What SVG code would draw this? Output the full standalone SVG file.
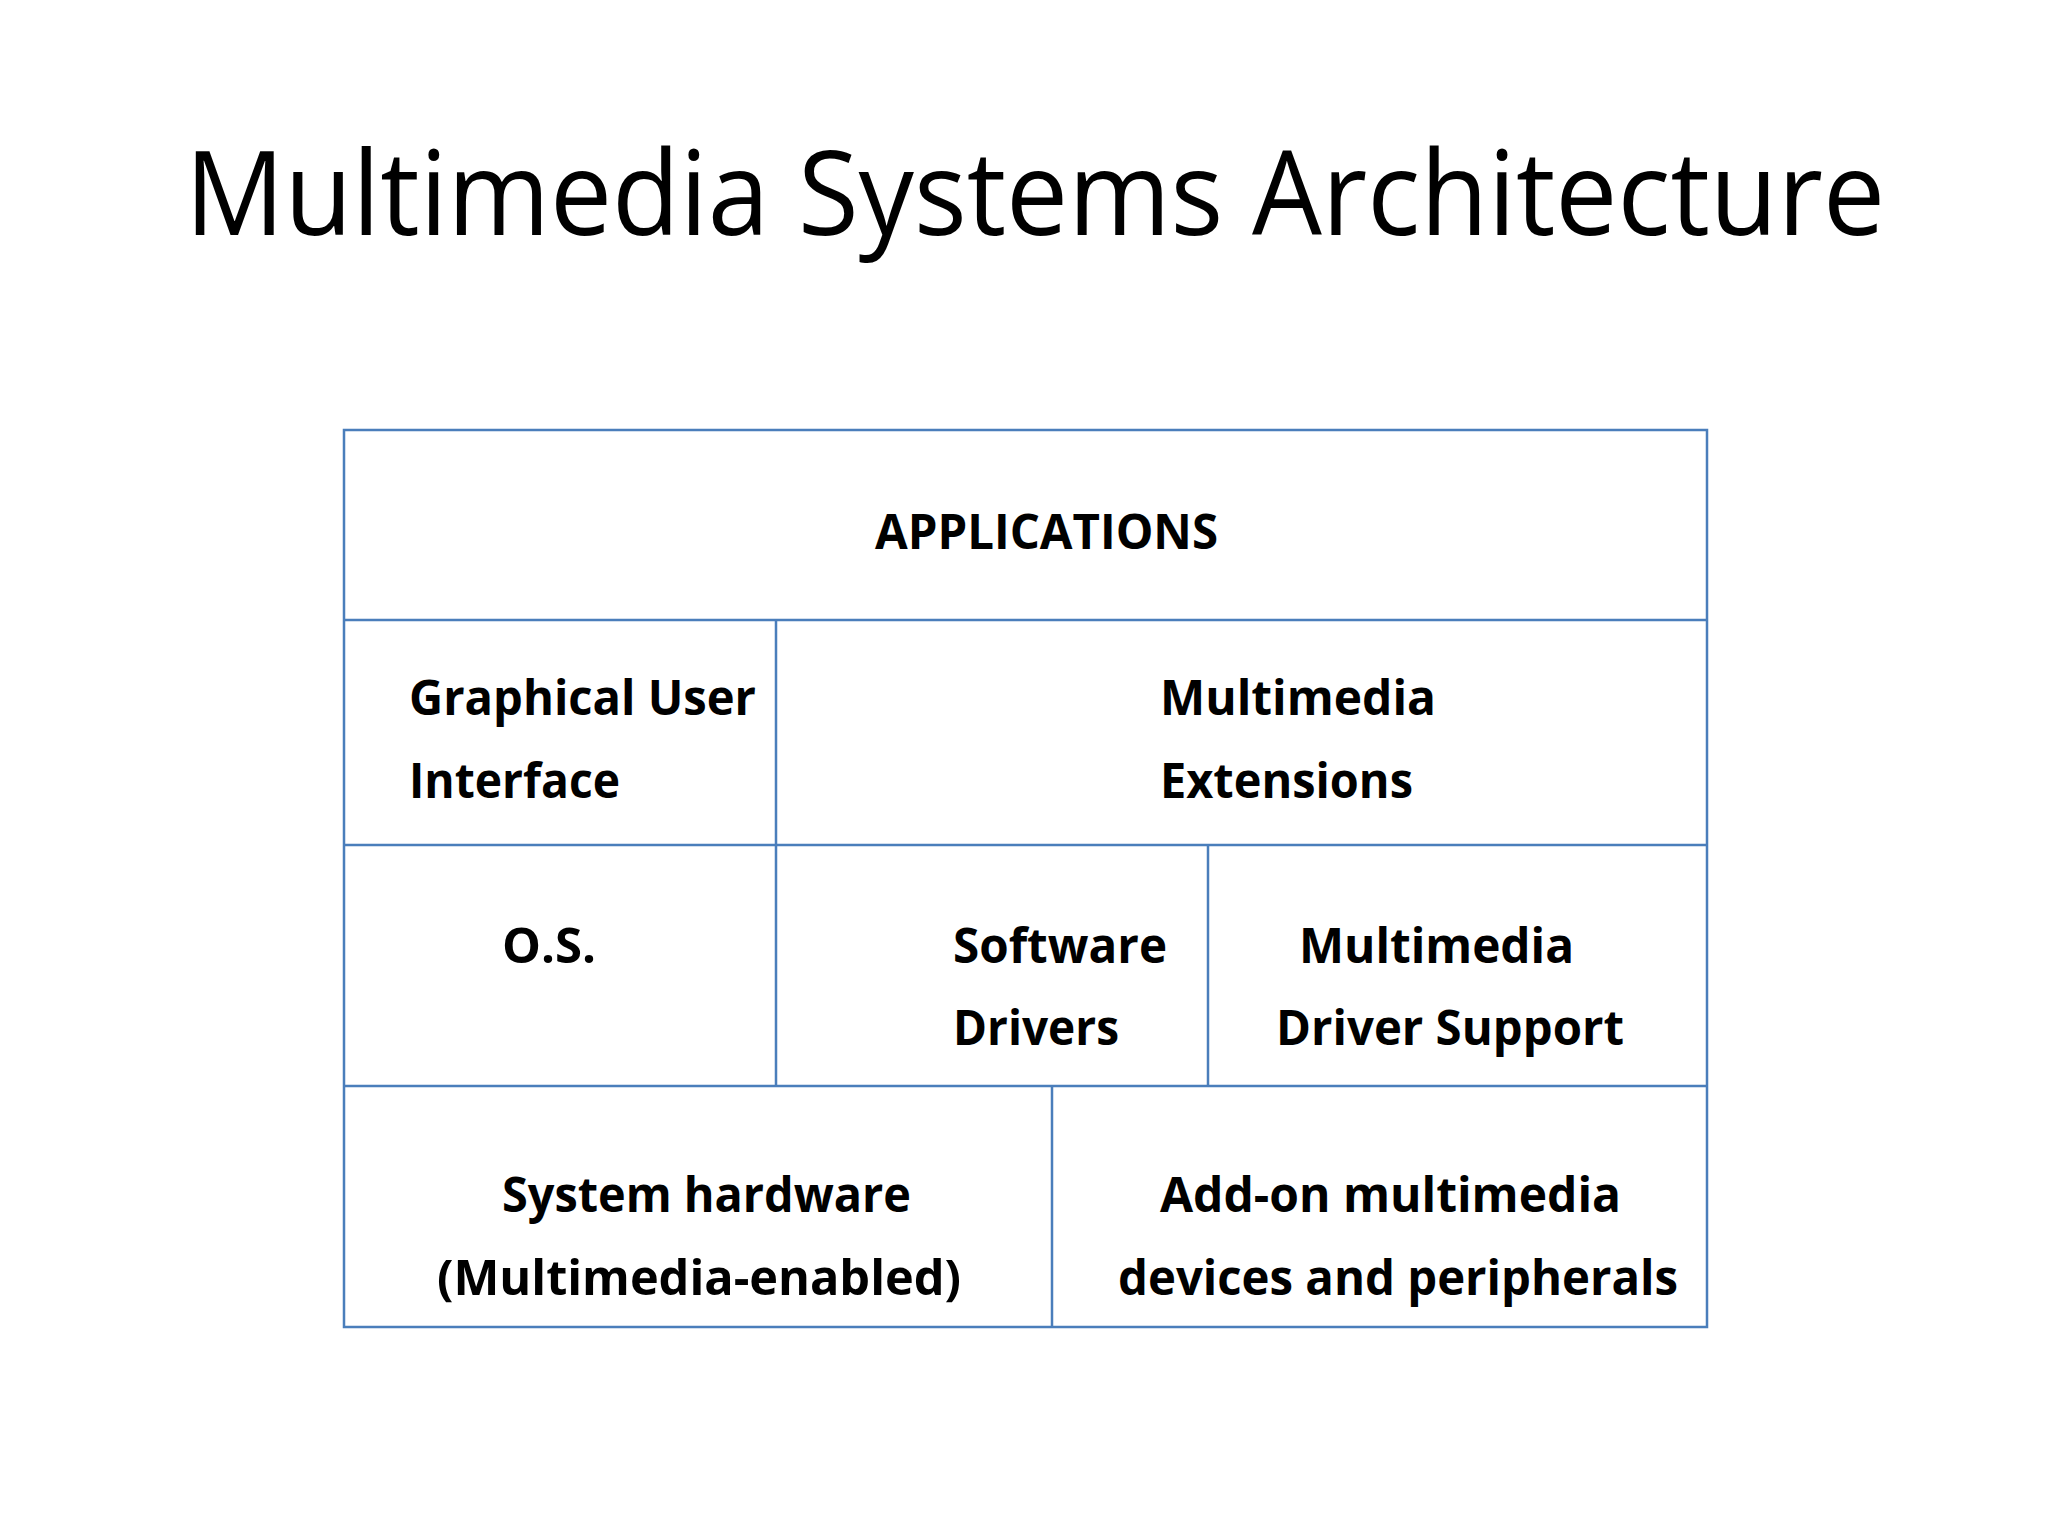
<svg xmlns="http://www.w3.org/2000/svg" width="2048" height="1536" viewBox="0 0 2048 1536">
<style>
.b{fill:none;stroke:#4a7ebb;stroke-width:2.5}
.t{font-family:"Open Sans","Liberation Sans",sans-serif;font-weight:bold;font-size:48px;fill:#000}
</style>
<rect width="2048" height="1536" fill="#fff"/>
<text x="185" y="235" font-family="'Open Sans','Liberation Sans',sans-serif" font-size="118" textLength="1700" lengthAdjust="spacingAndGlyphs">Multimedia Systems Architecture</text>
<g id="connectors" class="b">
<rect x="344" y="430" width="1363" height="897"/>
<line x1="344" y1="620" x2="1707" y2="620"/>
<line x1="344" y1="845" x2="1707" y2="845"/>
<line x1="344" y1="1086" x2="1707" y2="1086"/>
<line x1="776" y1="620" x2="776" y2="1086"/>
<line x1="1208" y1="845" x2="1208" y2="1086"/>
<line x1="1052" y1="1086" x2="1052" y2="1327"/>
</g>
<g id="applications"><text class="t" x="875" y="549" textLength="343" lengthAdjust="spacingAndGlyphs">APPLICATIONS</text></g>
<g id="gui"><text class="t" x="409" y="715" textLength="347" lengthAdjust="spacingAndGlyphs">Graphical User</text><text class="t" x="409" y="798" textLength="211" lengthAdjust="spacingAndGlyphs">Interface</text></g>
<g id="mmext"><text class="t" x="1160" y="715" textLength="276" lengthAdjust="spacingAndGlyphs">Multimedia</text><text class="t" x="1160" y="798" textLength="253" lengthAdjust="spacingAndGlyphs">Extensions</text></g>
<g id="os"><text class="t" x="502" y="963" textLength="94" lengthAdjust="spacingAndGlyphs">O.S.</text></g>
<g id="swdrivers"><text class="t" x="953" y="963" textLength="214" lengthAdjust="spacingAndGlyphs">Software</text><text class="t" x="953" y="1045" textLength="166" lengthAdjust="spacingAndGlyphs">Drivers</text></g>
<g id="mmdriver"><text class="t" x="1299" y="963" textLength="275" lengthAdjust="spacingAndGlyphs">Multimedia</text><text class="t" x="1276" y="1045" textLength="348" lengthAdjust="spacingAndGlyphs">Driver Support</text></g>
<g id="syshw"><text class="t" x="502" y="1212" textLength="409" lengthAdjust="spacingAndGlyphs">System hardware</text><text class="t" x="437" y="1295" textLength="524" lengthAdjust="spacingAndGlyphs">(Multimedia-enabled)</text></g>
<g id="addon"><text class="t" x="1160" y="1212" textLength="461" lengthAdjust="spacingAndGlyphs">Add-on multimedia</text><text class="t" x="1118" y="1295" textLength="560" lengthAdjust="spacingAndGlyphs">devices and peripherals</text></g>
</svg>
